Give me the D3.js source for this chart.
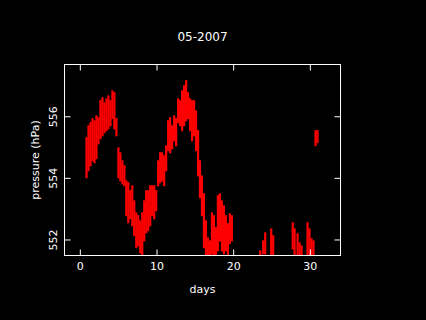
<!DOCTYPE html>
<html>
<head>
<meta charset="utf-8">
<script src="https://cdn.jsdelivr.net/npm/d3@7"></script>
<style>
  html, body { margin: 0; padding: 0; background: #000; }
  svg { display: block; }
  text { font-family: "DejaVu Sans", sans-serif; fill: #fff; }
</style>
</head>
<body>
<div id="chart"></div>
<script>
// pressure readings, May 2007 - vertical spread of the samples around each time step
const days = [0.87, 1.13, 1.39, 1.65, 1.91, 2.17, 2.43, 2.69, 2.95, 3.21, 3.47, 3.73, 3.99, 4.25, 4.51, 4.77,
  5.03, 5.29, 5.55, 5.81, 6.06, 6.32, 6.58, 6.84, 7.10, 7.36, 7.62, 7.88, 8.14, 8.40, 8.66, 8.92,
  9.18, 9.44, 9.70, 9.96, 10.22, 10.48, 10.74, 11.00, 11.26, 11.52, 11.78, 12.04, 12.30, 12.56, 12.82, 13.08,
  13.34, 13.60, 13.86, 14.12, 14.38, 14.64, 14.90, 15.16, 15.42, 15.67, 15.93, 16.19, 16.45, 16.71, 16.97, 17.23,
  17.49, 17.75, 18.01, 18.27, 18.53, 18.79, 19.05, 19.31, 19.57, 19.83,
  23.53, 23.92, 24.18, 24.96, 25.22, 27.77, 28.01, 28.40, 28.66, 28.92, 29.70, 29.96, 30.22, 30.48, 30.74, 31.00];
const pressureHigh = [555.32, 555.71, 555.81, 555.94, 555.87, 556.03, 555.97, 556.52, 556.62, 556.45, 556.58, 556.68, 556.52, 556.84, 556.78, 555.94,
  554.99, 554.83, 554.57, 554.41, 553.92, 553.86, 553.60, 553.76, 553.27, 552.88, 552.79, 552.62, 552.88, 553.27, 553.60, 553.60,
  553.76, 553.76, 553.76, 553.60, 554.57, 554.83, 554.83, 554.73, 555.06, 555.87, 555.97, 555.71, 556.03, 555.94, 556.58, 556.52,
  556.84, 557.01, 557.17, 556.78, 556.58, 556.52, 556.52, 556.19, 555.55, 554.57, 554.08, 553.50, 552.62, 552.07, 551.97, 552.88,
  552.79, 552.40, 553.44, 553.50, 553.27, 553.11, 552.79, 552.53, 552.85, 552.79,
  551.65, 551.97, 552.23, 552.36, 552.14, 552.56, 552.36, 552.20, 551.91, 551.81, 552.56, 552.36, 552.04, 551.97, 555.55, 555.55];
const pressureLow = [554.02, 554.25, 554.41, 554.57, 554.51, 554.64, 555.12, 555.29, 555.38, 555.48, 555.55, 555.61, 555.71, 555.94, 555.61, 555.38,
  554.02, 553.92, 553.82, 553.76, 552.79, 552.56, 552.69, 552.46, 552.14, 551.75, 551.81, 551.58, 551.50, 551.97, 552.23, 552.30,
  552.46, 552.79, 552.69, 552.95, 553.76, 553.86, 553.92, 553.76, 554.25, 554.90, 554.83, 554.96, 555.22, 555.06, 555.81, 555.71,
  555.55, 555.71, 555.87, 555.94, 555.55, 555.22, 555.38, 554.90, 554.08, 553.37, 552.79, 551.75, 551.50, 551.50, 551.50, 551.55,
  551.50, 551.50, 551.65, 551.97, 551.65, 551.55, 551.65, 551.50, 551.88, 551.97,
  551.50, 551.55, 551.55, 551.50, 551.50, 551.71, 551.50, 551.50, 551.50, 551.50, 551.50, 551.50, 551.50, 551.50, 555.06, 555.16];

const dayTicks = [0, 10, 20, 30];
const pressureTicks = [552, 554, 556];

const width = 426, height = 320;
const box = { left: 64.5, right: 340.5, top: 64.5, bottom: 255.5 };

const x = d3.scaleLinear().domain([-2, 34]).range([box.left, box.right]);
const y = d3.scaleLinear().domain([551.48, 557.68]).range([box.bottom, box.top]);

const svg = d3.select('#chart').append('svg').attr('width', width).attr('height', height);
svg.append('rect').attr('width', width).attr('height', height).attr('fill', '#000');

// data streaks
const barW = x(0.145) - x(0);
svg.append('g').selectAll('rect')
  .data(days.map((d, i) => ({ day: d, hi: pressureHigh[i], lo: pressureLow[i] })))
  .join('rect')
  .attr('x', d => x(d.day) - barW)
  .attr('width', barW * 2)
  .attr('y', d => y(d.hi))
  .attr('height', d => y(d.lo) - y(d.hi) + 1)
  .attr('fill', '#ff0000');

// frame
svg.append('rect')
  .attr('x', box.left).attr('y', box.top)
  .attr('width', box.right - box.left).attr('height', box.bottom - box.top)
  .attr('fill', 'none').attr('stroke', '#fff').attr('stroke-width', 1);

function styleAxis(g) {
  g.select('.domain').remove();
  g.selectAll('line').attr('stroke', '#fff');
  g.selectAll('text').attr('fill', '#fff').style('font-size', '11px').style('font-family', '"DejaVu Sans", sans-serif');
}

// bottom axis with inward ticks, top mirror without labels
svg.append('g').attr('transform', 'translate(0,' + box.bottom + ')')
  .call(d3.axisBottom(x).tickValues(dayTicks).tickSizeInner(-6).tickSizeOuter(0).tickPadding(7))
  .call(styleAxis);
svg.append('g').attr('transform', 'translate(0,' + box.top + ')')
  .call(d3.axisTop(x).tickValues(dayTicks).tickSizeInner(-6).tickSizeOuter(0).tickFormat(''))
  .call(styleAxis);

// left axis, labels turned upright
const yAxis = svg.append('g').attr('transform', 'translate(' + box.left + ',0)')
  .call(d3.axisLeft(y).tickValues(pressureTicks).tickFormat(d3.format('d')).tickSizeInner(-6).tickSizeOuter(0))
  .call(styleAxis);
yAxis.selectAll('.tick text')
  .attr('x', 0).attr('y', -8).attr('dy', 0)
  .attr('text-anchor', 'middle')
  .attr('transform', 'rotate(-90)');
svg.append('g').attr('transform', 'translate(' + box.right + ',0)')
  .call(d3.axisRight(y).tickValues(pressureTicks).tickSizeInner(-6).tickSizeOuter(0).tickFormat(''))
  .call(styleAxis);

// titles
const midX = (box.left + box.right) / 2;
svg.append('text').attr('x', midX).attr('y', 41).attr('text-anchor', 'middle')
  .style('font-size', '12px').text('05-2007');
svg.append('text').attr('x', midX).attr('y', 293).attr('text-anchor', 'middle')
  .style('font-size', '11px').text('days');
svg.append('text')
  .attr('transform', 'translate(39,' + ((box.top + box.bottom) / 2) + ') rotate(-90)')
  .attr('text-anchor', 'middle')
  .style('font-size', '11px').text('pressure (hPa)');
</script>
</body>
</html>
